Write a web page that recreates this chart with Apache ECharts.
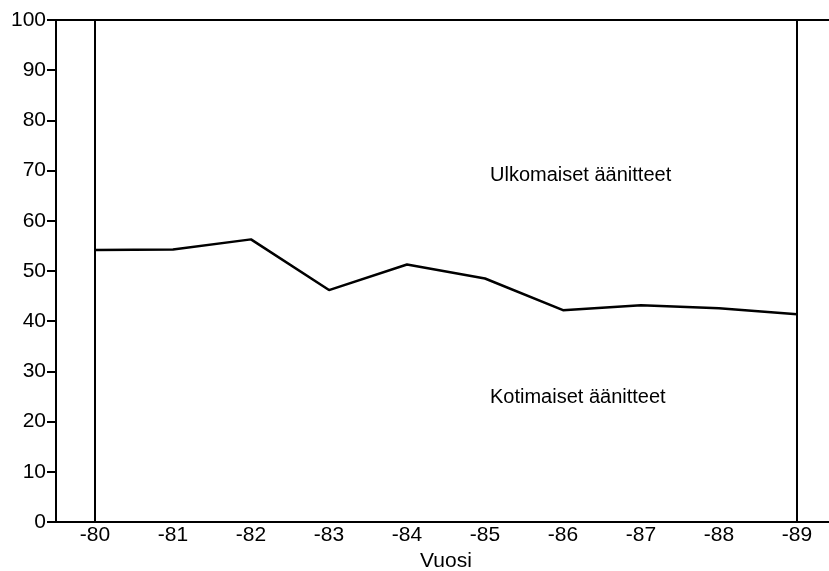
<!DOCTYPE html>
<html>
<head>
<meta charset="utf-8">
<script src="https://cdn.jsdelivr.net/npm/echarts@6/dist/echarts.min.js"></script>
<style>
  html, body { margin: 0; padding: 0; background: #fff; }
  #chart { width: 829px; height: 571px; }
</style>
</head>
<body>
<div id="chart"></div>
<script>
const years = ['-80', '-81', '-82', '-83', '-84', '-85', '-86', '-87', '-88', '-89']
const domesticShare = [54.2, 54.3, 56.3, 46.2, 51.3, 48.5, 42.2, 43.2, 42.6, 41.4]
const yTicks = [0, 10, 20, 30, 40, 50, 60, 70, 80, 90, 100]
const areaLabels = ['Ulkomaiset äänitteet', 'Kotimaiset äänitteet']

var myChart = echarts.init(document.getElementById('chart'))
var font = 'Liberation Sans, Arial, sans-serif'
var option = {
  animation: false,
  grid: {
    left: 56, top: 20, width: 780, bottom: 49,
    outerBoundsMode: 'none',
    containLabel: false,
    show: true, borderColor: '#000', borderWidth: 2, backgroundColor: 'transparent'
  },
  xAxis: {
    type: 'category',
    data: years,
    boundaryGap: true,
    name: 'Vuosi',
    nameLocation: 'middle',
    nameGap: 20,
    nameTextStyle: { color: '#000', fontSize: 21, fontFamily: font, verticalAlign: 'top' },
    axisLine: { lineStyle: { color: '#000', width: 2 } },
    axisTick: { alignWithLabel: true, length: 4, lineStyle: { color: '#000', width: 2 } },
    axisLabel: { color: '#000', fontSize: 21, fontFamily: font, margin: 3 },
    splitLine: { show: false }
  },
  yAxis: {
    type: 'value',
    min: 0, max: 100, interval: 10,
    axisLine: { show: true, lineStyle: { color: '#000', width: 2 } },
    axisTick: { show: true, length: 9, lineStyle: { color: '#000', width: 2 } },
    axisLabel: {
      color: '#000', fontSize: 21, fontFamily: font, margin: 10,
      formatter: v => yTicks.includes(v) ? String(v) : ''
    },
    splitLine: { show: false }
  },
  graphic: [
    { type: 'text', left: 490, top: 165, style: { text: areaLabels[0], fill: '#000', font: '20px ' + font } },
    { type: 'text', left: 490, top: 387, style: { text: areaLabels[1], fill: '#000', font: '20px ' + font } }
  ],
  series: [
    {
      type: 'line',
      data: domesticShare,
      symbol: 'none',
      lineStyle: { color: '#000', width: 2.5 },
      markLine: {
        silent: true,
        symbol: 'none',
        label: { show: false },
        lineStyle: { color: '#000', width: 2, type: 'solid' },
        data: [{ xAxis: years[0] }, { xAxis: years[years.length - 1] }]
      }
    }
  ]
}
myChart.setOption(option)
</script>
</body>
</html>
